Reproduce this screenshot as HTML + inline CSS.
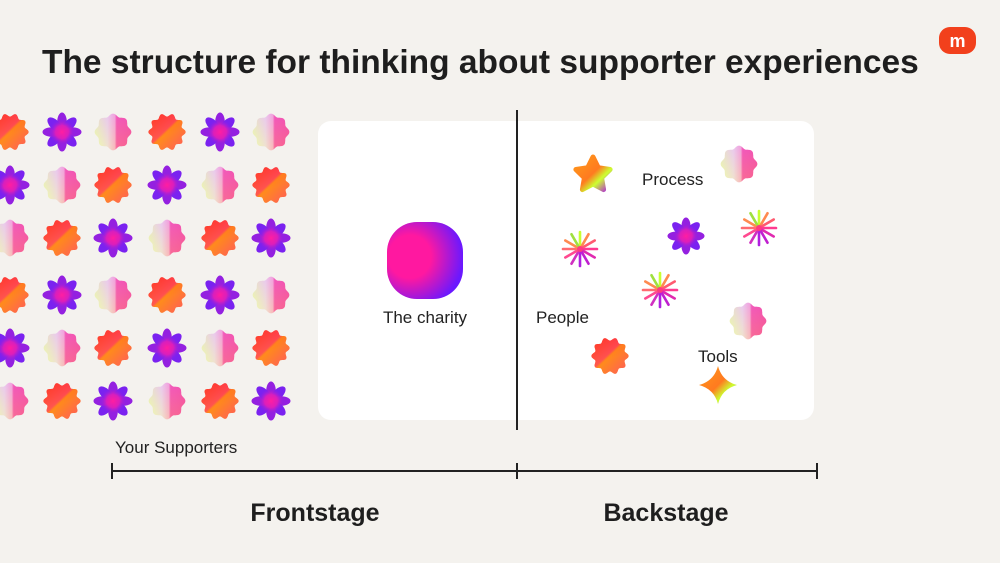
<!DOCTYPE html>
<html><head><meta charset="utf-8"><style>
html,body{margin:0;padding:0;background:#f4f2ee;}
body{width:1000px;height:563px;overflow:hidden;position:relative;font-family:"Liberation Sans",sans-serif;}
svg{position:absolute;left:0;top:0;}
</style></head><body>
<svg id="s" width="1000" height="563" viewBox="0 0 1000 563" xmlns="http://www.w3.org/2000/svg">
<defs>
<linearGradient id="gb" x1="0" y1="0" x2="1" y2="1"><stop offset="0" stop-color="#ff3b1e"/><stop offset="0.45" stop-color="#ff2a7a"/><stop offset="0.5" stop-color="#ff8a1c"/><stop offset="1" stop-color="#ff1f9a"/></linearGradient>
<linearGradient id="gb2" x1="0.2" y1="0" x2="0.6" y2="1"><stop offset="0" stop-color="#ff3a20"/><stop offset="0.6" stop-color="#ff8c1a"/><stop offset="1" stop-color="#ff9a1a"/></linearGradient>
<radialGradient id="gfc" cx="0.5" cy="0.5" r="0.5"><stop offset="0" stop-color="#ff1ea0"/><stop offset="0.5" stop-color="#f01eb0" stop-opacity="0.8"/><stop offset="1" stop-color="#8a1ee8" stop-opacity="0"/></radialGradient>
<linearGradient id="gc" x1="0" y1="0" x2="1" y2="0"><stop offset="0" stop-color="#f0ffb0"/><stop offset="0.35" stop-color="#f3d8e8"/><stop offset="0.55" stop-color="#ff9ccc"/><stop offset="0.6" stop-color="#ff2a9a"/><stop offset="1" stop-color="#ff1e8c"/></linearGradient>
<linearGradient id="gc2" x1="0" y1="0" x2="0" y2="1"><stop offset="0" stop-color="#d8a8ff" stop-opacity="0.6"/><stop offset="1" stop-color="#e8ff90" stop-opacity="0.5"/></linearGradient>
<linearGradient id="gs" x1="0" y1="0" x2="1" y2="1"><stop offset="0" stop-color="#ff9a1a"/><stop offset="0.5" stop-color="#ff7a20"/><stop offset="0.7" stop-color="#ccff30"/><stop offset="1" stop-color="#b020e0"/></linearGradient>
<radialGradient id="gch" cx="0.3" cy="0.45" r="0.7"><stop offset="0" stop-color="#ff18a0"/><stop offset="0.4" stop-color="#ff18a0"/><stop offset="1" stop-color="#6a18ff"/></radialGradient>
</defs>
<text x="42" y="73" font-size="33.5" font-weight="bold" fill="#1e1e1e">The structure for thinking about supporter experiences</text>
<rect x="939" y="27" width="37" height="27" rx="11" fill="#f2401c"/>
<text x="957.5" y="47" font-size="18" font-weight="bold" fill="#fff" text-anchor="middle">m</text>
<rect x="318" y="121" width="496" height="299" rx="13" fill="#fff"/>
<line x1="517" y1="110" x2="517" y2="430" stroke="#222" stroke-width="2"/>
<rect x="387" y="222" width="76" height="77" rx="30" fill="url(#gch)"/>
<g font-size="17" fill="#222">
<text x="425" y="323" text-anchor="middle">The charity</text>
<text x="642" y="185">Process</text>
<text x="536" y="323">People</text>
<text x="698" y="362">Tools</text>
<text x="115" y="453">Your Supporters</text>
</g>
<line x1="112" y1="471" x2="817" y2="471" stroke="#222" stroke-width="2"/>
<line x1="112" y1="463" x2="112" y2="479" stroke="#222" stroke-width="2"/>
<line x1="517" y1="463" x2="517" y2="479" stroke="#222" stroke-width="2"/>
<line x1="817" y1="463" x2="817" y2="479" stroke="#222" stroke-width="2"/>
<text x="315" y="521" font-size="25" font-weight="bold" fill="#1e1e1e" text-anchor="middle">Frontstage</text>
<text x="666" y="521" font-size="25" font-weight="bold" fill="#1e1e1e" text-anchor="middle">Backstage</text>
<g id="g"></g>
</svg>
<script>
var g=document.getElementById('g'),NS="http://www.w3.org/2000/svg";
function wavy(cx,cy,r,a,n){var d="";for(var i=0;i<=360;i++){var t=i/360*2*Math.PI;var rr=r+a*Math.cos(n*t);d+=(i?"L":"M")+(cx+rr*Math.cos(t)).toFixed(1)+","+(cy+rr*Math.sin(t)).toFixed(1);}return d+"Z";}
function add(tag,attrs){var e=document.createElementNS(NS,tag);for(var k in attrs)e.setAttribute(k,attrs[k]);g.appendChild(e);return e;}
function burst(x,y,s){add('path',{d:wavy(x,y,17*s,1.6*s,10),fill:'url(#gb2)'});add('path',{d:wavy(x,y,17*s,1.6*s,10),fill:'url(#gb)',opacity:0.55});}
function flower(x,y,s){for(var i=0;i<8;i++){add('ellipse',{cx:x,cy:y-10*s,rx:4.8*s,ry:9.5*s,fill:i%2?'#7a22f0':'#9420e0',transform:'rotate('+(i*45)+' '+x+' '+y+')'});}add('circle',{cx:x,cy:y,r:13*s,fill:'url(#gfc)'});}
function cloud(x,y,s){add('path',{d:wavy(x,y,17*s,1.3*s,8),fill:'url(#gc)'});add('path',{d:wavy(x,y,17*s,1.3*s,8),fill:'url(#gc2)',opacity:0.6});}
function spark(x,y,s){var cols=['#c8ff30','#ff8a50','#ff5a70','#ff3a90','#e02ab0','#c020d0','#b020e0','#d030c0','#ff4a90','#ff6a70','#ff8a50','#a0e040'];for(var i=0;i<12;i++){var t=-Math.PI/2+i*Math.PI/6;add('line',{x1:x,y1:y,x2:(x+17*s*Math.cos(t)).toFixed(1),y2:(y+17*s*Math.sin(t)).toFixed(1),stroke:cols[i],'stroke-width':2.6,'stroke-linecap':'round'});}add('circle',{cx:x,cy:y,r:3,fill:'#ff3a80'});}
function star(x,y,s){var d="";for(var i=0;i<10;i++){var t=-Math.PI/2+i*Math.PI/5;var r=i%2?9*s:18*s;d+=(i?"L":"M")+(x+r*Math.cos(t))+","+(y+r*Math.sin(t));}add('path',{d:d+"Z",fill:'url(#gs)',stroke:'url(#gs)','stroke-width':5,'stroke-linejoin':'round'});}
function four(x,y,s){var r=19*s,q=4*s;add('path',{d:"M"+x+","+(y-r)+"Q"+(x+q)+","+(y-q)+" "+(x+r)+","+y+"Q"+(x+q)+","+(y+q)+" "+x+","+(y+r)+"Q"+(x-q)+","+(y+q)+" "+(x-r)+","+y+"Q"+(x-q)+","+(y-q)+" "+x+","+(y-r)+"Z",fill:'url(#gs)'});}
var xs=[10,62,113,167,220,271],ys=[132,185,238,295,348,401];
for(var r=0;r<6;r++)for(var c=0;c<6;c++){var t=(r+c)%3;if(t==0)burst(xs[c],ys[r],1);else if(t==1)flower(xs[c],ys[r],1);else cloud(xs[c],ys[r],1);}
star(593,175,1);cloud(739,164,1);flower(686,236,0.95);spark(759,228,1);spark(580,249,1);spark(660,290,1);cloud(748,321,1);burst(610,356,1);four(718,385,1);
</script>
</body></html>
